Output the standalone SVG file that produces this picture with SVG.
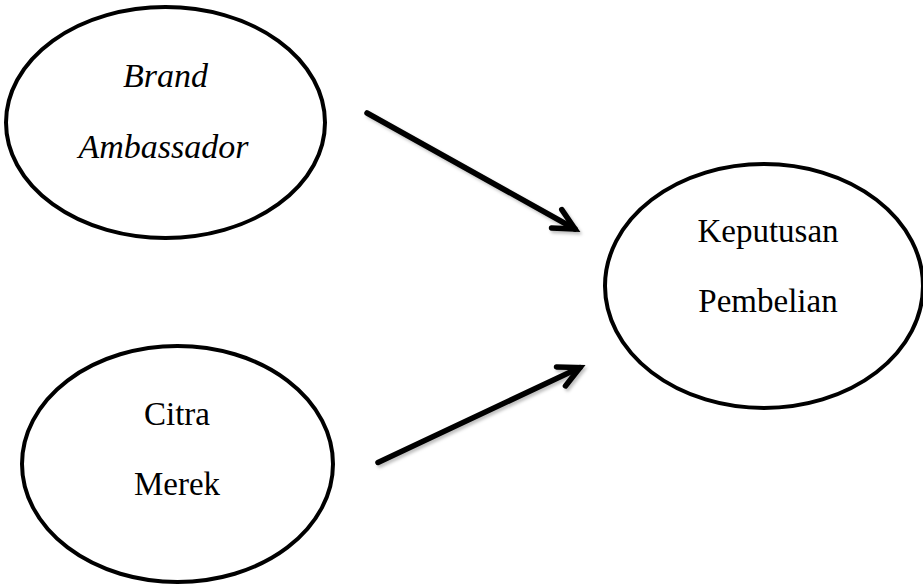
<svg xmlns="http://www.w3.org/2000/svg" width="923" height="587" viewBox="0 0 923 587">
  <style>
    .node ellipse { fill: #ffffff; stroke: #000000; stroke-width: 4; }
    .lbl { font-family: "Liberation Serif", "Times New Roman", serif; font-size: 33px; fill: #000000; text-anchor: middle; }
    .it { font-style: italic; font-size: 34px; }
    .conn line { stroke: #000000; stroke-width: 5.5; stroke-linecap: round; }
  </style>
  <defs>
    <filter id="shadow" x="-10%" y="-10%" width="130%" height="130%">
      <feDropShadow dx="2" dy="2.5" stdDeviation="1.5" flood-color="#000000" flood-opacity="0.25"/>
    </filter>
    <marker id="arrow" markerUnits="userSpaceOnUse" orient="auto" refX="0" refY="0" markerWidth="40" markerHeight="40" overflow="visible">
      <path d="M -21 -10.5 L 0 0 L -21 10.5" fill="none" stroke="#000000" stroke-width="5.5" stroke-linejoin="miter" stroke-linecap="round"/>
    </marker>
  </defs>
  <rect width="923" height="587" fill="#ffffff"/>
  <g id="brand-ambassador" class="node">
    <ellipse cx="165.5" cy="122.5" rx="159.5" ry="115.5"/>
    <text class="lbl it" x="165.5" y="87">Brand</text>
    <text class="lbl it" x="163.5" y="157.5">Ambassador</text>
  </g>
  <g id="citra-merek" class="node">
    <ellipse cx="177.5" cy="464" rx="155.5" ry="118"/>
    <text class="lbl" x="177" y="425">Citra</text>
    <text class="lbl" x="177" y="495">Merek</text>
  </g>
  <g id="keputusan-pembelian" class="node">
    <ellipse cx="764" cy="286" rx="159" ry="122"/>
    <text class="lbl" x="768" y="242">Keputusan</text>
    <text class="lbl" x="768" y="312">Pembelian</text>
  </g>
  <g id="connectors" class="conn" filter="url(#shadow)">
    <line x1="367" y1="113" x2="575" y2="229" marker-end="url(#arrow)"/>
    <line x1="378" y1="462.5" x2="580" y2="367.5" marker-end="url(#arrow)"/>
  </g>
</svg>
